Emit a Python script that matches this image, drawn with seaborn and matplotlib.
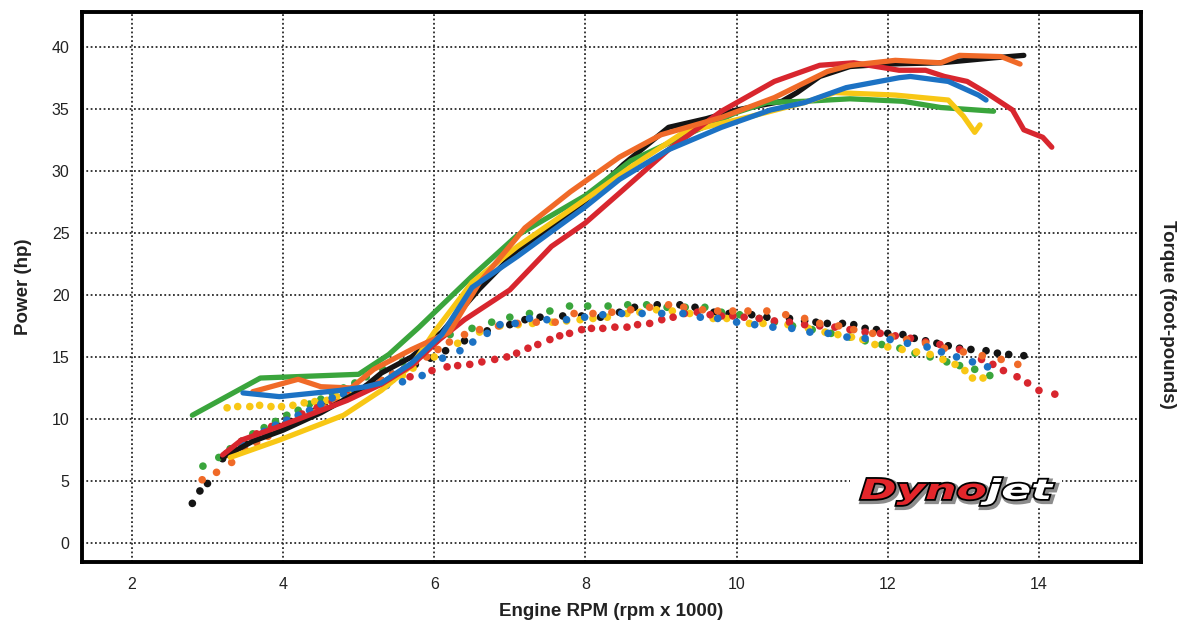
import numpy as np
import pandas as pd
import seaborn as sns
import matplotlib
matplotlib.use("Agg")
import matplotlib.pyplot as plt
from matplotlib.textpath import TextPath
from matplotlib.patches import PathPatch, Rectangle
from matplotlib.font_manager import FontProperties
from matplotlib.transforms import Affine2D

# run colours
run_names = ["black", "green", "yellow", "red", "orange", "blue"]
run_colors = {"black": "#141414", "green": "#3aa53c", "yellow": "#f8c715",
              "red": "#d8262e", "orange": "#f06a28", "blue": "#1c72c4"}

# ---- power (hp), solid lines ----
black_p_x = [3.2, 3.6, 4.0, 4.5, 5.0, 5.3, 5.7, 6.1, 6.6, 7.1, 7.6, 8.0, 8.5, 9.1, 9.6, 10.0, 10.6, 10.8, 11.1, 11.5, 12.0, 12.7, 13.4, 13.8]
black_p_y = [6.9, 8.2, 9.1, 10.5, 12.2, 13.7, 15.0, 17.0, 20.5, 23.6, 25.6, 27.6, 30.5, 33.5, 34.2, 34.9, 35.6, 36.3, 37.6, 38.4, 38.6, 38.7, 39.1, 39.3]

orange_p_x = [3.6, 4.2, 4.5, 4.9, 5.2, 5.7, 6.2, 6.6, 7.2, 7.8, 8.45, 9.0, 9.8, 10.5, 11.2, 11.5, 12.1, 12.7, 12.95, 13.5, 13.75]
orange_p_y = [12.2, 13.2, 12.6, 12.5, 14.0, 15.6, 17.0, 21.0, 25.4, 28.3, 31.1, 32.9, 34.3, 35.9, 38.0, 38.5, 38.9, 38.7, 39.3, 39.2, 38.6]

red_p_x = [3.2, 3.45, 3.95, 4.85, 5.3, 5.7, 6.07, 6.4, 7.0, 7.55, 8.0, 8.45, 9.1, 9.8, 10.5, 11.1, 11.55, 12.15, 12.5, 12.75, 13.05, 13.3, 13.65, 13.8, 14.05, 14.17]
red_p_y = [7.1, 8.3, 9.4, 11.5, 12.8, 14.3, 16.4, 18.0, 20.4, 23.9, 25.8, 28.2, 31.7, 34.8, 37.2, 38.5, 38.7, 38.1, 38.1, 37.6, 37.2, 36.3, 34.9, 33.3, 32.7, 31.9]

blue_p_x = [3.47, 3.95, 4.75, 5.1, 5.3, 5.7, 6.1, 6.5, 7.1, 8.0, 8.45, 9.1, 9.8, 10.45, 10.9, 11.45, 12.15, 12.3, 12.8, 13.2, 13.3]
blue_p_y = [12.1, 11.8, 12.3, 12.6, 12.9, 14.5, 16.8, 20.6, 23.1, 27.1, 29.3, 31.7, 33.5, 34.9, 35.5, 36.7, 37.5, 37.6, 37.2, 36.1, 35.7]

green_p_x = [2.8, 3.7, 5.0, 5.4, 5.8, 6.5, 7.1, 8.0, 8.6, 9.3, 10.0, 10.4, 10.9, 11.5, 12.2, 12.7, 13.4]
green_p_y = [10.3, 13.3, 13.6, 15.2, 17.4, 21.5, 24.8, 28.0, 30.8, 32.8, 34.7, 35.5, 35.6, 35.8, 35.6, 35.1, 34.8]

yellow_p_x = [3.3, 3.95, 4.8, 5.3, 5.7, 6.0, 6.5, 7.1, 8.0, 8.6, 9.3, 10.2, 10.9, 11.3, 12.1, 12.8, 13.0, 13.15, 13.22]
yellow_p_y = [6.9, 8.3, 10.3, 12.3, 14.3, 17.0, 21.0, 23.9, 27.7, 30.3, 33.1, 34.4, 35.5, 36.3, 36.1, 35.7, 34.4, 33.1, 33.7]

# ---- torque (ft-lb), dotted ----
black_t_x = [2.8, 2.9, 3.0, 3.2, 3.35, 3.5, 3.65, 3.8, 3.95, 4.1, 4.25, 4.4, 4.55, 4.7, 4.85, 5.0, 5.15, 5.3, 5.45, 5.6, 5.75, 5.95, 6.15, 6.4, 6.7, 7.0, 7.2, 7.4, 7.7, 7.95, 8.2, 8.45, 8.65, 8.95, 9.25, 9.45, 9.7, 9.9, 10.2, 10.4, 10.7, 10.9, 11.05, 11.2, 11.4, 11.55, 11.7, 11.85, 12.0, 12.2, 12.35, 12.5, 12.65, 12.8, 12.95, 13.1, 13.3, 13.45, 13.6, 13.8]
black_t_y = [3.2, 4.2, 4.8, 6.8, 7.5, 8.0, 8.6, 9.0, 9.4, 9.8, 10.2, 10.6, 11.0, 11.4, 11.8, 12.2, 12.6, 13.1, 13.6, 14.0, 14.4, 14.9, 15.5, 16.3, 17.1, 17.6, 18.0, 18.2, 18.3, 18.3, 18.2, 18.6, 19.0, 19.2, 19.2, 19.0, 18.6, 18.5, 18.4, 18.2, 18.1, 17.9, 17.8, 17.7, 17.7, 17.6, 17.3, 17.2, 16.9, 16.8, 16.5, 16.3, 16.1, 15.9, 15.7, 15.6, 15.5, 15.3, 15.2, 15.1]

orange_t_x = [2.93, 3.12, 3.32, 3.5, 3.65, 3.8, 3.95, 4.1, 4.25, 4.4, 4.55, 4.7, 4.85, 5.0, 5.15, 5.3, 5.45, 5.6, 5.75, 5.9, 6.05, 6.2, 6.4, 6.6, 6.85, 7.1, 7.35, 7.6, 7.85, 8.1, 8.35, 8.6, 8.85, 9.1, 9.3, 9.55, 9.75, 9.95, 10.15, 10.4, 10.65, 10.9, 11.1, 11.35, 11.55, 11.8, 12.05, 12.25, 12.5, 12.75, 13.0, 13.25, 13.5, 13.72]
orange_t_y = [5.1, 5.7, 6.5, 7.5, 8.1, 8.6, 9.1, 9.6, 10.0, 10.5, 10.9, 11.3, 11.8, 12.2, 12.7, 13.1, 13.6, 14.0, 14.6, 15.0, 15.6, 16.2, 16.8, 17.2, 17.5, 17.7, 17.8, 17.8, 18.5, 18.5, 18.6, 18.8, 19.0, 19.2, 19.0, 18.8, 18.7, 18.7, 18.7, 18.7, 18.4, 18.1, 17.7, 17.5, 17.2, 16.9, 16.6, 16.4, 16.1, 15.7, 15.4, 15.1, 14.8, 14.4]

red_t_x = [3.25, 3.45, 3.65, 3.85, 4.05, 4.25, 4.45, 4.65, 4.85, 5.05, 5.25, 5.45, 5.68, 5.97, 6.17, 6.31, 6.47, 6.63, 6.8, 6.96, 7.09, 7.24, 7.37, 7.53, 7.66, 7.79, 7.95, 8.08, 8.23, 8.39, 8.55, 8.69, 8.85, 9.01, 9.16, 9.31, 9.48, 9.65, 9.8, 9.95, 10.1, 10.3, 10.5, 10.7, 10.9, 11.1, 11.3, 11.5, 11.7, 11.9, 12.1, 12.3, 12.5, 12.69, 12.95, 13.24, 13.39, 13.53, 13.71, 13.85, 14.0, 14.21]
red_t_y = [7.2, 8.2, 8.8, 9.4, 9.9, 10.4, 10.9, 11.4, 11.9, 12.3, 12.8, 13.2, 13.4, 13.9, 14.2, 14.3, 14.4, 14.6, 14.8, 15.0, 15.3, 15.7, 16.0, 16.4, 16.7, 16.9, 17.2, 17.3, 17.3, 17.4, 17.4, 17.6, 17.7, 18.0, 18.2, 18.5, 18.6, 18.4, 18.3, 18.3, 18.2, 18.1, 17.9, 17.8, 17.6, 17.5, 17.4, 17.2, 17.0, 16.9, 16.7, 16.5, 16.2, 16.0, 15.6, 14.8, 14.4, 13.9, 13.4, 12.9, 12.3, 12.0]

blue_t_x = [3.3, 3.45, 3.6, 3.75, 3.9, 4.05, 4.2, 4.35, 4.5, 4.65, 4.8, 4.95, 5.1, 5.37, 5.58, 5.84, 6.11, 6.34, 6.51, 6.7, 6.87, 7.07, 7.26, 7.49, 7.75, 7.99, 8.23, 8.48, 8.75, 9.01, 9.29, 9.52, 9.75, 10.0, 10.24, 10.48, 10.73, 10.97, 11.21, 11.46, 11.7, 12.03, 12.26, 12.52, 12.71, 12.91, 13.12, 13.32]
blue_t_y = [7.3, 8.0, 8.5, 9.0, 9.5, 9.9, 10.3, 10.7, 11.2, 11.7, 12.0, 12.3, 12.6, 12.7, 13.0, 13.5, 14.9, 15.5, 16.2, 16.9, 17.6, 17.7, 18.1, 18.0, 18.0, 18.2, 18.4, 18.5, 18.5, 18.5, 18.5, 18.2, 18.1, 17.8, 17.6, 17.4, 17.3, 17.0, 16.9, 16.6, 16.5, 16.4, 16.1, 15.8, 15.4, 15.0, 14.6, 14.2]

green_t_x = [2.94, 3.15, 3.3, 3.45, 3.6, 3.75, 3.9, 4.05, 4.2, 4.35, 4.5, 4.65, 4.8, 4.95, 5.1, 5.32, 5.58, 5.85, 6.21, 6.5, 6.76, 7.0, 7.26, 7.53, 7.79, 8.03, 8.3, 8.56, 8.81, 9.08, 9.32, 9.58, 9.8, 10.04, 10.3, 10.5, 10.74, 11.0, 11.25, 11.5, 11.7, 11.92, 12.16, 12.36, 12.56, 12.78, 12.95, 13.15, 13.35]
green_t_y = [6.2, 6.9, 7.6, 8.2, 8.8, 9.3, 9.8, 10.3, 10.7, 11.2, 11.6, 12.1, 12.5, 12.9, 13.4, 14.0, 14.6, 15.6, 16.8, 17.3, 17.8, 18.2, 18.5, 18.7, 19.1, 19.1, 19.1, 19.2, 19.2, 19.0, 19.0, 19.0, 18.6, 18.4, 18.1, 17.8, 17.5, 17.2, 16.9, 16.6, 16.3, 16.0, 15.7, 15.3, 15.0, 14.6, 14.3, 14.0, 13.5]

yellow_t_x = [3.26, 3.4, 3.56, 3.69, 3.84, 3.98, 4.13, 4.28, 4.42, 4.58, 4.71, 4.86, 5.0, 5.15, 5.3, 5.45, 5.58, 5.72, 6.0, 6.31, 6.6, 6.87, 7.11, 7.3, 7.56, 7.75, 7.93, 8.1, 8.29, 8.55, 8.72, 8.94, 9.15, 9.38, 9.69, 9.87, 10.17, 10.35, 10.68, 10.95, 11.17, 11.34, 11.52, 11.67, 11.83, 12.0, 12.19, 12.38, 12.56, 12.73, 12.89, 13.02, 13.12, 13.26]
yellow_t_y = [10.9, 11.0, 11.0, 11.1, 11.0, 11.0, 11.1, 11.3, 11.4, 11.5, 11.8, 12.1, 12.4, 12.7, 13.0, 13.3, 13.5, 14.1, 15.0, 16.1, 17.0, 17.5, 17.6, 17.7, 17.8, 17.9, 18.0, 18.1, 18.2, 18.5, 18.6, 18.8, 18.7, 18.5, 18.1, 18.1, 17.7, 17.7, 17.6, 17.3, 17.0, 16.8, 16.6, 16.4, 16.0, 15.8, 15.6, 15.4, 15.2, 14.8, 14.4, 13.9, 13.3, 13.3]

power = {"black": (black_p_x, black_p_y), "green": (green_p_x, green_p_y),
         "yellow": (yellow_p_x, yellow_p_y), "red": (red_p_x, red_p_y),
         "orange": (orange_p_x, orange_p_y), "blue": (blue_p_x, blue_p_y)}
torque = {"black": (black_t_x, black_t_y), "green": (green_t_x, green_t_y),
          "yellow": (yellow_t_x, yellow_t_y), "red": (red_t_x, red_t_y),
          "orange": (orange_t_x, orange_t_y), "blue": (blue_t_x, blue_t_y)}


def to_long(d):
    frames = []
    for run in run_names:
        xs, ys = d[run]
        frames.append(pd.DataFrame({"rpm": xs, "val": ys, "run": run}))
    return pd.concat(frames, ignore_index=True)


power_df = to_long(power)
torque_df = to_long(torque)

sns.set_theme(style="white")
plt.rcParams["font.family"] = ["Liberation Sans", "DejaVu Sans"]

fig = plt.figure(figsize=(11.83, 6.28), dpi=100)
ax = fig.add_axes([0.0693, 0.105, 0.8952, 0.876])

# torque dots
sns.scatterplot(data=torque_df, x="rpm", y="val", hue="run", palette=run_colors,
                hue_order=run_names, s=30, linewidth=0, legend=False, ax=ax, zorder=3)

# power lines
sns.lineplot(data=power_df, x="rpm", y="val", hue="run", palette=run_colors,
             hue_order=run_names, sort=False, estimator=None, linewidth=3.8,
             legend=False, ax=ax, zorder=4)

ax.set_xlim(1.34, 15.35)
ax.set_ylim(-1.53, 42.8)
ax.set_xticks([2, 4, 6, 8, 10, 12, 14])
ax.set_yticks(range(0, 41, 5))
ax.tick_params(length=0, labelsize=11.5, colors="#222222")
ax.tick_params(axis="x", pad=11)
ax.tick_params(axis="y", pad=9)

ax.grid(True, color="#2a2a2a", linestyle=(0, (1, 1.4)), linewidth=1.3)
ax.set_axisbelow(True)
for sp in ax.spines.values():
    sp.set_visible(True)
    sp.set_color("black")
    sp.set_linewidth(2.8)

ax.set_xlabel("Engine RPM (rpm x 1000)", fontsize=13.5, fontweight="bold",
              color="#222222", labelpad=8)
ax.set_ylabel("Power (hp)", fontsize=13.5, fontweight="bold", color="#222222",
              labelpad=14)
fig.text(0.987, 0.5, "Torque (foot-pounds)", rotation=270, fontsize=13.5,
         fontweight="bold", color="#222222", ha="center", va="center")

# Dynojet badge, drawn in pixel units (fig is saved at 100 dpi)
H = 628
fig.add_artist(Rectangle((850, H - 508), 212, 32, facecolor="white",
                         edgecolor="none", transform=None, zorder=5))
fp = FontProperties(family="DejaVu Sans", weight="bold", style="oblique")
sx, sy = 2.2, 1.38
x0, base = 860, H - 499
for word, face in [("Dyno", "#e3262b"), ("jet", "white")]:
    tp = TextPath((0, 0), word, size=20, prop=fp)
    ext = tp.get_extents()
    shadow_tr = Affine2D().scale(sx, sy).translate(x0 + 2, base - 2)
    fig.add_artist(PathPatch(tp, transform=shadow_tr, facecolor="#8c8c8c",
                             edgecolor="#8c8c8c", linewidth=4.5, zorder=6))
    tr = Affine2D().scale(sx, sy).translate(x0, base)
    fig.add_artist(PathPatch(tp, transform=tr, facecolor=face,
                             edgecolor="black", linewidth=2.6, zorder=7))
    fig.add_artist(PathPatch(tp, transform=tr, facecolor=face,
                             edgecolor="none", zorder=8))
    x0 += ext.x1 * sx + 1

fig.savefig("out.png", dpi=100)
